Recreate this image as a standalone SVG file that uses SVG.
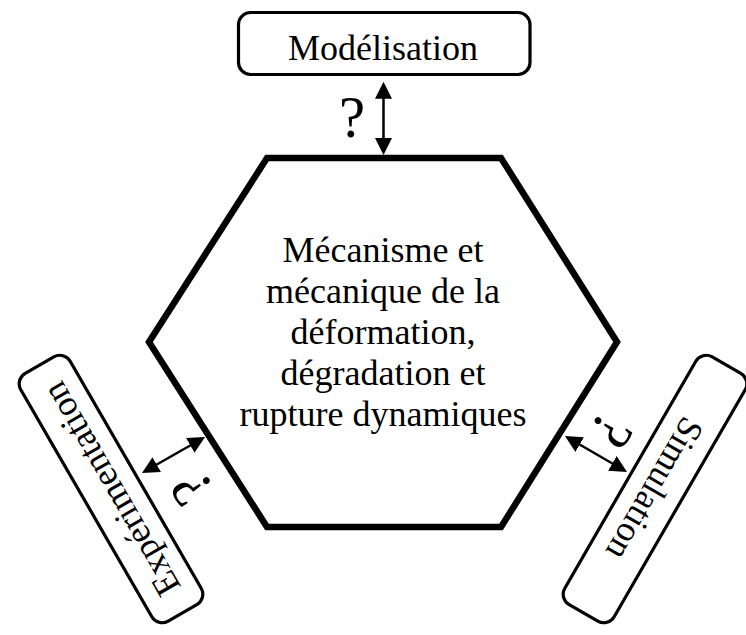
<svg xmlns="http://www.w3.org/2000/svg" width="746" height="635" viewBox="0 0 746 635">
  <style>
    .box { fill: #fff; stroke: #000; stroke-width: 3.2; }
    .hex { fill: #fff; stroke: #000; stroke-width: 6.5; stroke-linejoin: miter; }
    .lbl { font-family: "Liberation Serif", "Times New Roman", serif; font-size: 36px; fill: #000; text-anchor: middle; }
    .q { font-family: "Liberation Serif", "Times New Roman", serif; font-size: 59px; fill: #000; text-anchor: middle; }
    .conn { stroke: #000; stroke-width: 2.5; fill: none; marker-start: url(#ah); marker-end: url(#ah); }
  </style>
  <defs>
    <marker id="ah" viewBox="0 0 17 17" markerWidth="17" markerHeight="17" refX="12" refY="8.5" markerUnits="userSpaceOnUse" orient="auto-start-reverse">
      <path d="M0,0 L17,8.5 L0,17 z" fill="#000"/>
    </marker>
  </defs>
  <rect width="746" height="635" fill="#fff"/>

  <g id="center">
    <polygon class="hex" points="267,158 501,158 617,342 501,527 267,527 149,342"/>
    <text class="lbl" x="383" y="261.5">Mécanisme et</text>
    <text class="lbl" x="383" y="302.5">mécanique de la</text>
    <text class="lbl" x="383" y="343.5">déformation,</text>
    <text class="lbl" x="383" y="384.5">dégradation et</text>
    <text class="lbl" x="383" y="425.5">rupture dynamiques</text>
  </g>

  <g id="modelisation">
    <rect class="box" x="238.5" y="12.5" width="291.5" height="62" rx="12"/>
    <text class="lbl" x="383" y="59.5">Modélisation</text>
  </g>

  <g id="experimentation" transform="translate(111,489) rotate(-120)">
    <rect class="box" x="-143" y="-28.5" width="286" height="57" rx="12"/>
    <text class="lbl" x="0" y="12">Expérimentation</text>
  </g>

  <g id="simulation" transform="translate(655,489) rotate(120)">
    <rect class="box" x="-143" y="-28.5" width="286" height="57" rx="12"/>
    <text class="lbl" x="0" y="12">Simulation</text>
  </g>

  <g id="connectors">
    <line class="conn" x1="383.5" y1="86.7" x2="383.5" y2="150"/>
    <line class="conn" x1="146.3" y1="470.5" x2="200.7" y2="439.5"/>
    <line class="conn" x1="569.3" y1="438.5" x2="622.7" y2="469.5"/>
  </g>

  <g id="labels">
    <text class="q" x="352" y="137">?</text>
    <text class="q" transform="translate(191,489) rotate(-123)" x="0" y="20">?</text>
    <text class="q" transform="translate(612,431) rotate(123)" x="0" y="20">?</text>
  </g>
</svg>
